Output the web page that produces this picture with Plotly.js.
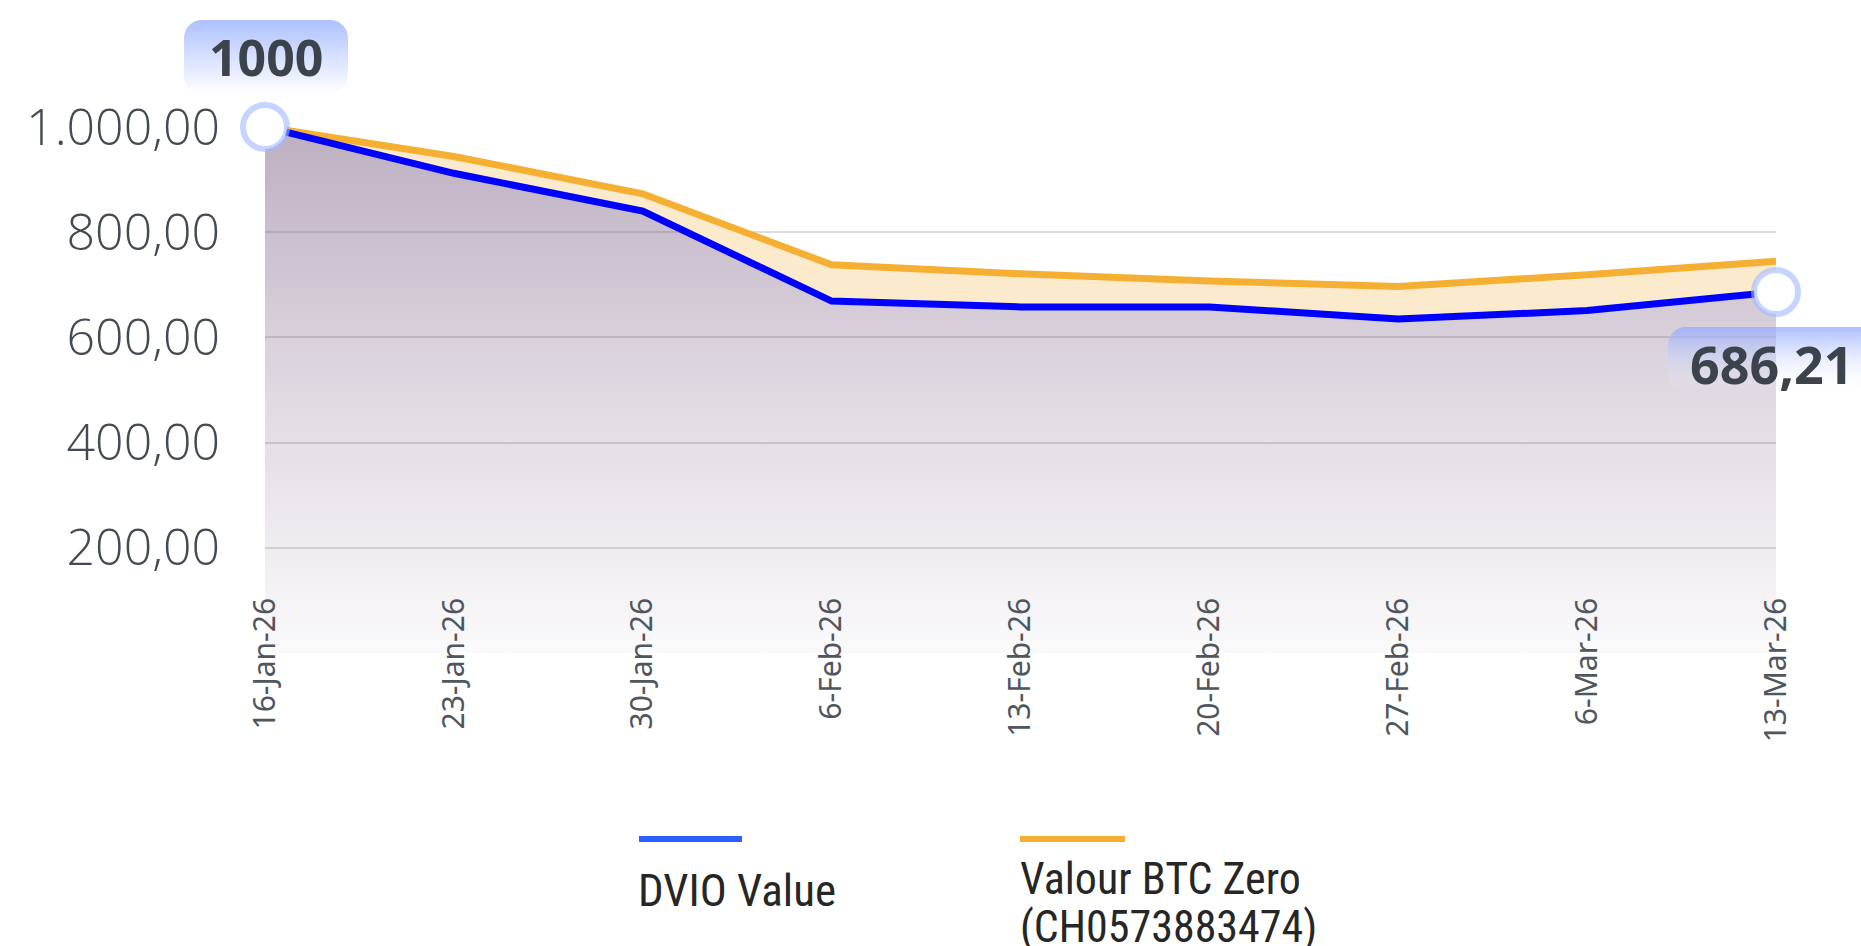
<!DOCTYPE html>
<html>
<head>
<meta charset="utf-8">
<script src="https://cdn.plot.ly/plotly-3.0.1.min.js"></script>
<style>
  html, body { margin: 0; padding: 0; background: #ffffff; }
  #chart { width: 1861px; height: 946px; }
</style>
</head>
<body>
<div id="chart"></div>
<script>
// ---- data ----
const categories = ['16-Jan-26', '23-Jan-26', '30-Jan-26', '6-Feb-26', '13-Feb-26', '20-Feb-26', '27-Feb-26', '6-Mar-26', '13-Mar-26'];
const dvioValues = [1000, 912, 840, 669, 658, 658, 635, 651, 686.21];
const valourValues = [1000, 944, 873, 738, 721, 707, 697, 719, 745];
const yTickVals = [200, 400, 600, 800, 1000];
const dvioName = 'DVIO Value';
const valourNameLines = ['Valour BTC Zero', '(CH0573883474)'];

// ---- styles ----
const BLUE = '#0000ff';
const ORANGE = '#f5b033';
const LEGEND_BLUE = '#2b5fff';
const TEXT_DARK = '#3d434b';

const W = 1861, H = 946;
const M = { l: 265, r: 85, t: 127, b: 293 };
const PW = W - M.l - M.r, PH = H - M.t - M.b;
const px = x => (x - M.l) / PW;          // page pixel -> paper x
const py = y => (H - M.b - y) / PH;      // page pixel -> paper y

function gradBox(w, h, top, opTop, opBot) {
  const svg = "<svg xmlns='http://www.w3.org/2000/svg' width='" + w + "' height='" + h + "' viewBox='0 0 " + w + " " + h + "' preserveAspectRatio='none'>" +
    "<defs><linearGradient id='g' x1='0' y1='0' x2='0' y2='1'>" +
    "<stop offset='0' stop-color='" + top + "' stop-opacity='" + opTop + "'/>" +
    "<stop offset='1' stop-color='#ffffff' stop-opacity='" + opBot + "'/>" +
    "</linearGradient></defs>" +
    "<rect x='0' y='0' width='" + w + "' height='" + h + "' rx='18' ry='18' fill='url(#g)'/></svg>";
  return 'data:image/svg+xml;charset=utf-8,' + encodeURIComponent(svg);
}

const fmtComma = v => v.toFixed(2).replace('.', ',');
const LEG_FONT = 'Liberation Sans Narrow, Roboto Condensed, Roboto, sans-serif';

const traces = [
  {
    x: categories, y: dvioValues, type: 'scatter', mode: 'lines',
    line: { width: 0, color: 'rgba(0,0,0,0)' },
    fill: 'tozeroy',
    fillgradient: {
      type: 'vertical', start: 0, stop: 1000,
      colorscale: [[0, 'rgba(110,80,120,0.03)'], [0.5, 'rgba(110,80,120,0.22)'], [1, 'rgba(110,80,120,0.46)']]
    },
    showlegend: false, hoverinfo: 'skip', cliponaxis: false
  },
  {
    x: categories, y: valourValues, type: 'scatter', mode: 'lines',
    name: valourNameLines.join(' '),
    line: { width: 7, color: ORANGE },
    fill: 'tonexty', fillcolor: 'rgba(252,233,202,0.95)',
    showlegend: false, cliponaxis: false
  },
  {
    x: categories, y: dvioValues, type: 'scatter', mode: 'lines',
    name: dvioName,
    line: { width: 7, color: BLUE },
    showlegend: false, cliponaxis: false
  },
  {
    x: [categories[0], categories[categories.length - 1]],
    y: [dvioValues[0], dvioValues[dvioValues.length - 1]],
    type: 'scatter', mode: 'markers',
    marker: { size: 44, color: '#ffffff', line: { width: 6, color: 'rgba(160,185,255,0.6)' } },
    showlegend: false, hoverinfo: 'skip', cliponaxis: false
  }
];

const layout = {
  width: W, height: H,
  margin: M,
  paper_bgcolor: '#ffffff', plot_bgcolor: '#ffffff',
  separators: ',.',
  showlegend: false,
  xaxis: {
    type: 'category', range: [0, categories.length - 1],
    anchor: 'free', position: 0.118,
    showgrid: false, zeroline: false, showline: false,
    tickangle: -90, ticks: '',
    tickfont: { family: 'Noto Sans, sans-serif', size: 30, color: '#50565e' }
  },
  yaxis: {
    range: [0, 1000],
    tickvals: yTickVals, tickformat: ',.2f',
    showgrid: true, gridcolor: '#dedcde', gridwidth: 2,
    zeroline: false, showline: false,
    ticks: '', ticklabelstandoff: 44,
    tickfont: { family: 'Open Sans, Noto Sans, sans-serif', size: 50, weight: 300, color: '#434a54' }
  },
  images: [
    { source: gradBox(164, 74, '#a9bdff', 0.95, 0.9), xref: 'paper', yref: 'paper',
      x: px(184), y: py(20), sizex: px(348) - px(184), sizey: py(20) - py(94),
      xanchor: 'left', yanchor: 'top', sizing: 'stretch', layer: 'above' },
    { source: gradBox(212, 66, '#8fa8ff', 0.75, 0.0), xref: 'paper', yref: 'paper',
      x: px(1668), y: py(327), sizex: px(1880) - px(1668), sizey: py(327) - py(393),
      xanchor: 'left', yanchor: 'top', sizing: 'stretch', layer: 'above' }
  ],
  shapes: [
    { type: 'line', xref: 'paper', yref: 'paper', x0: px(639), x1: px(742), y0: py(839), y1: py(839),
      line: { color: LEGEND_BLUE, width: 6 } },
    { type: 'line', xref: 'paper', yref: 'paper', x0: px(1020), x1: px(1125), y0: py(839), y1: py(839),
      line: { color: ORANGE, width: 6 } }
  ],
  annotations: [
    { xref: 'paper', yref: 'paper', x: px(266), y: py(57), xanchor: 'center', yanchor: 'middle',
      text: String(dvioValues[0]), showarrow: false,
      font: { family: 'Noto Sans, sans-serif', size: 50, weight: 700, color: TEXT_DARK } },
    { xref: 'paper', yref: 'paper', x: px(1772), y: py(363), xanchor: 'center', yanchor: 'middle',
      text: fmtComma(dvioValues[dvioValues.length - 1]), showarrow: false,
      font: { family: 'Noto Sans, sans-serif', size: 52, weight: 700, color: TEXT_DARK } },
    { xref: 'paper', yref: 'paper', x: px(636), y: py(890), xanchor: 'left', yanchor: 'middle',
      text: dvioName, showarrow: false,
      font: { family: LEG_FONT, size: 45, color: '#262626' } },
    { xref: 'paper', yref: 'paper', x: px(1018), y: py(879), xanchor: 'left', yanchor: 'middle',
      text: valourNameLines[0], showarrow: false,
      font: { family: LEG_FONT, size: 44, color: '#262626' } },
    { xref: 'paper', yref: 'paper', x: px(1018), y: py(927), xanchor: 'left', yanchor: 'middle',
      text: valourNameLines[1], showarrow: false,
      font: { family: LEG_FONT, size: 44, color: '#262626' } }
  ]
};

Plotly.newPlot('chart', traces, layout, { displayModeBar: false, responsive: false });
</script>
</body>
</html>
